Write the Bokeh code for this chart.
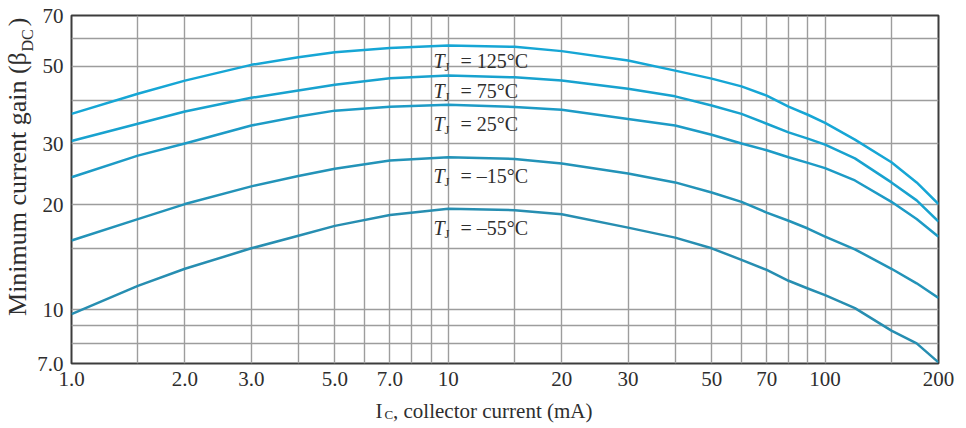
import math
from bokeh.plotting import figure
from bokeh.models import ColumnDataSource, FixedTicker, Label, Range1d
from bokeh.core.properties import value
from bokeh.embed import file_html
from bokeh.resources import INLINE

# ---- data ----
ic_ma = [1, 1.5, 2, 3, 4, 5, 7, 10, 15, 20, 30, 40, 50, 60, 70, 80, 90, 100, 120, 150, 175, 200]
gain_125 = [36.5, 41.7, 45.5, 50.5, 53.1, 54.9, 56.5, 57.4, 56.9, 55.3, 52.0, 48.6, 46.1, 43.8, 41.2, 38.3, 36.3, 34.4, 30.8, 26.5, 23.2, 20.1]
gain_75 = [30.5, 34.2, 37.1, 40.6, 42.6, 44.3, 46.2, 47.1, 46.5, 45.5, 43.1, 41.0, 38.6, 36.5, 34.2, 32.3, 31.0, 29.8, 27.2, 23.2, 20.6, 17.9]
gain_25 = [24.0, 27.7, 30.0, 33.8, 35.9, 37.3, 38.3, 38.8, 38.2, 37.5, 35.3, 33.8, 31.8, 30.0, 28.7, 27.4, 26.4, 25.5, 23.5, 20.4, 18.2, 16.2]
gain_m15 = [15.8, 18.2, 20.1, 22.6, 24.2, 25.4, 26.8, 27.4, 27.1, 26.3, 24.6, 23.2, 21.7, 20.4, 19.0, 18.0, 17.1, 16.2, 14.9, 13.1, 11.9, 10.8]
gain_m55 = [9.7, 11.7, 13.1, 15.0, 16.3, 17.4, 18.7, 19.5, 19.3, 18.8, 17.2, 16.1, 15.0, 13.9, 13.0, 12.1, 11.5, 11.0, 10.1, 8.7, 8.0, 7.05]

series_keys = ["g125", "g75", "g25", "gm15", "gm55"]
series_values = [gain_125, gain_75, gain_25, gain_m15, gain_m55]
series_temps = ["= 125°C", "= 75°C", "= 25°C", "= –15°C", "= –55°C"]
series_colors = ["#16a6d5", "#18a2cf", "#1d9bc6", "#2393b8", "#278eb1"]

x_tick_values = [1, 2, 3, 5, 7, 10, 20, 30, 50, 70, 100, 200]
x_tick_labels = ["1.0", "2.0", "3.0", "5.0", "7.0", "10", "20", "30", "50", "70", "100", "200"]
y_tick_values = [7, 10, 20, 30, 50, 70]
y_tick_labels = ["7.0", "10", "20", "30", "50", "70"]
x_grid_values = [1.5, 2, 3, 4, 5, 6, 7, 8, 9, 10, 15, 20, 30, 40, 50, 60, 70, 80, 90, 100, 150]
y_grid_values = [8, 9, 10, 15, 20, 30, 40, 50, 60]

X_MIN, X_MAX, Y_MIN, Y_MAX = 1, 200, 7, 70

# layout (canvas pixels)
W, H = 966, 428
FL, FT, FR, FB = 71, 15, 938, 363

FONT = "Liberation Serif"
TXT = "#2e2e2e"
NB = "\u00a0"


def dx(px):
    """canvas pixel -> x data value (for placing annotations)"""
    return 10 ** ((px - FL) / (FR - FL) * math.log10(X_MAX / X_MIN)) * X_MIN


def dy(py):
    return Y_MAX / 10 ** ((py - FT) / (FB - FT) * math.log10(Y_MAX / Y_MIN))


p = figure(width=W, height=H, x_axis_type="log", y_axis_type="log",
           x_range=Range1d(X_MIN, X_MAX), y_range=Range1d(Y_MIN, Y_MAX),
           output_backend="svg", toolbar_location=None, title=None,
           min_border_left=FL, min_border_right=W - FR, min_border_top=FT, min_border_bottom=H - FB,
           background_fill_color="white", border_fill_color="white")

p.outline_line_color = "#3c3c3c"
p.outline_line_width = 2

for ax, ticks, labels in ((p.xaxis[0], x_tick_values, x_tick_labels), (p.yaxis[0], y_tick_values, y_tick_labels)):
    ax.ticker = FixedTicker(ticks=ticks, minor_ticks=[])
    ax.major_label_overrides = {t: l for t, l in zip(ticks, labels)}
    ax.axis_line_color = None
    ax.major_tick_line_color = None
    ax.minor_tick_line_color = None
    ax.major_tick_out = 0
    ax.major_tick_in = 0
    ax.major_label_text_font = FONT
    ax.major_label_text_font_size = "21px"
    ax.major_label_text_color = TXT
    ax.major_label_standoff = 8
    ax.axis_label_text_font = FONT
    ax.axis_label_text_font_style = "normal"
    ax.axis_label_text_color = TXT

# axis titles (subscripts added as separate labels)
p.xaxis[0].axis_label = "I" + NB * 2 + ", collector current (mA)" + NB * 8
p.xaxis[0].axis_label_text_font_size = "21px"
p.xaxis[0].axis_label_standoff = 10
p.yaxis[0].axis_label = NB * 7 + "Minimum current gain (β" + NB * 4 + ")"
p.yaxis[0].axis_label_text_font_size = "26px"
p.yaxis[0].axis_label_standoff = 2

p.xgrid.ticker = FixedTicker(ticks=x_grid_values, minor_ticks=[])
p.ygrid.ticker = FixedTicker(ticks=y_grid_values, minor_ticks=[])
for g in (p.xgrid, p.ygrid):
    g.grid_line_color = "#9d9d9d"
    g.grid_line_width = 1.4
    g.grid_line_alpha = 1.0

data = {"ic": ic_ma}
for k, v in zip(series_keys, series_values):
    data[k] = v
src = ColumnDataSource(data)

for k, c in zip(series_keys, series_colors):
    p.line(x="ic", y=k, source=src, line_color=c, line_width=2.5, line_join="round")

# curve labels: italic T, subscript J, then "= ...°C"
label_x = dx(433)
label_y = [dy(60), dy(90), dy(123), dy(175), dy(227)]
lab = ColumnDataSource(dict(x=[label_x] * len(label_y), y=label_y, t=["T"] * len(label_y),
                            j=["J"] * len(label_y), rest=series_temps))
p.text(x="x", y="y", text="t", source=lab, text_font=value(FONT), text_font_style="italic",
       text_font_size="20px", text_baseline="middle", text_align="left", text_color=TXT)
p.text(x="x", y="y", text="j", source=lab, text_font=value(FONT),
       text_font_size="13px", text_baseline="middle", text_align="left", text_color=TXT,
       x_offset=11, y_offset=6)
p.text(x="x", y="y", text="rest", source=lab, text_font=value(FONT),
       text_font_size="20px", text_baseline="middle", text_align="left", text_color=TXT,
       x_offset=27)

# subscripts of the axis titles, placed in side panels (not clipped to the frame)
sub_c = Label(x=dx(384), y=dy(414), text="C", text_font=FONT, text_font_size="13px",
              text_baseline="middle", text_align="left", text_color=TXT)
p.add_layout(sub_c, "above")
sub_dc = Label(x=dx(27), y=dy(51), text="DC", angle=math.pi / 2, text_font=FONT,
               text_font_size="16px", text_baseline="middle", text_align="left", text_color=TXT)
p.add_layout(sub_dc, "right")

open("out.html", "w").write(file_html(p, INLINE))
